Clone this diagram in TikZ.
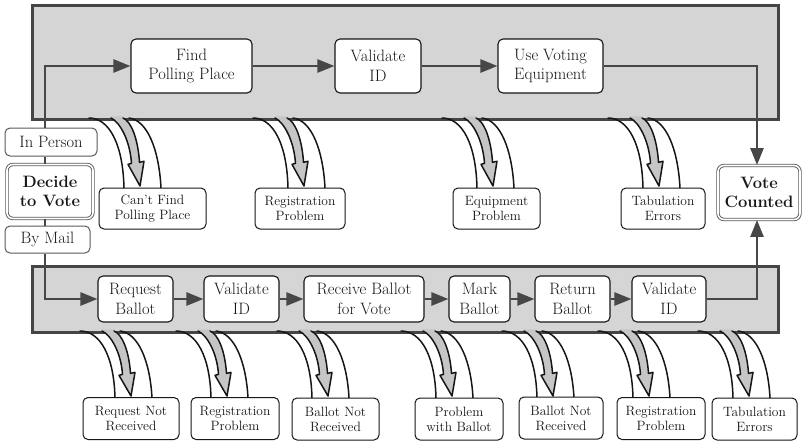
\documentclass[tikz,border=0pt]{standalone}
\usetikzlibrary{arrows.meta}

\definecolor{bandfill}{HTML}{D5D5D5}
\definecolor{bandline}{HTML}{454545}
\definecolor{flowcol}{HTML}{474747}
\definecolor{inkcol}{HTML}{161616}
\definecolor{leakgrey}{HTML}{C6C6C6}
\definecolor{framegrey}{HTML}{5A5A5A}

\newcommand{\boxfont}{\fontsize{16.5}{19.5}\selectfont}
\newcommand{\lblfont}{\fontsize{13.5}{15}\selectfont}

% a failure path: a hollow arrow dropping out of a lane inside a curved channel
\newcommand{\leakat}[3]{%
  \begin{scope}[shift={(#1,#2)},yscale=#3]
    \fill[leakgrey] (0,-1.6) -- (0,0) .. controls (9,4) and (19,22) .. (20.5,44)
      -- (17,45) -- (29,66) -- (33,42) -- (28.5,43)
      .. controls (27,20) and (20,3) .. (12,0) -- (12,-1.6) -- cycle;
    \draw[leakline] (0,0) .. controls (9,4) and (19,22) .. (20.5,44)
      -- (17,45) -- (29,66) -- (33,42) -- (28.5,43)
      .. controls (27,20) and (20,3) .. (12,0);
    \draw[leakline] (-22,0) .. controls (-2,0) and (12,25) .. (13,68);
    \draw[leakline] (18,0) .. controls (36,2) and (48,30) .. (50,68);
  \end{scope}}

\tikzset{
  band/.style={draw=bandline, fill=bandfill, line width=3pt, inner sep=0pt},
  stepbox/.style={draw=inkcol, fill=white, line width=1.1pt, rounded corners=5pt,
    align=center, inner sep=0pt, text=inkcol, font=\boxfont},
  endbox/.style={draw=framegrey, double=white, double distance=1.6pt, line width=0.9pt,
    fill=white, rounded corners=6pt, align=center, inner sep=0pt, text=inkcol,
    font=\boxfont\bfseries},
  choicebox/.style={draw=framegrey, fill=white, line width=1pt, rounded corners=5pt,
    align=center, inner sep=0pt, text=inkcol, font=\boxfont},
  lblbox/.style={draw=inkcol, fill=white, line width=1pt, rounded corners=5pt,
    align=center, inner sep=0pt, text=inkcol, font=\lblfont, minimum height=41pt},
  leakline/.style={draw=inkcol, line width=1.5pt, line cap=round, line join=round},
  flow/.style={draw=flowcol, line width=2.5pt, -{Triangle[length=17pt,width=13pt]}},
  plainline/.style={draw=flowcol, line width=2.5pt},
}

\begin{document}
\begin{tikzpicture}[x=1pt, y=-1pt]
\useasboundingbox (0,0) rectangle (802,445);

% lanes
\node[band, anchor=north west, minimum width=746pt, minimum height=114pt] (personlane) at (31,4) {};
\node[band, anchor=north west, minimum width=746pt, minimum height=66pt] (maillane) at (31,265) {};

% failure paths
\leakat{111}{118}{1.03}
\leakat{275}{118}{1.03}
\leakat{464}{118}{1.03}
\leakat{630}{118}{1.03}
\leakat{102}{331}{0.985}
\leakat{198}{331}{0.985}
\leakat{299}{331}{0.985}
\leakat{423}{331}{0.985}
\leakat{524}{331}{0.985}
\leakat{620}{331}{0.985}
\leakat{720}{331}{0.985}

% start and end
\node[endbox, minimum width=86pt, minimum height=54pt] (decide) at (50,191.5) {Decide\\to Vote};
\node[endbox, minimum width=82pt, minimum height=54pt] (counted) at (759,192.5) {Vote\\Counted};
\node[choicebox, minimum width=92pt, minimum height=28pt] (inperson) at (51,142) {In Person};
\node[choicebox, minimum width=85pt, minimum height=27pt] (bymail) at (47.5,239.5) {By Mail};

% in-person steps
\node[stepbox, minimum width=121pt, minimum height=54pt] (findpp) at (191.5,66) {Find\\Polling Place};
\node[stepbox, minimum width=86pt, minimum height=54pt] (valid1) at (378,66) {Validate\\ID};
\node[stepbox, minimum width=105pt, minimum height=54pt] (usevote) at (550.5,66) {Use Voting\\Equipment};

% mail steps
\node[stepbox, minimum width=75pt, minimum height=46pt] (reqballot) at (135.5,299) {Request\\Ballot};
\node[stepbox, minimum width=75pt, minimum height=46pt] (valid2) at (241.5,299) {Validate\\ID};
\node[stepbox, minimum width=120pt, minimum height=46pt] (recvballot) at (364,299) {Receive Ballot\\for Vote};
\node[stepbox, minimum width=61pt, minimum height=46pt] (markballot) at (479.5,299) {Mark\\Ballot};
\node[stepbox, minimum width=75pt, minimum height=46pt] (retballot) at (572.5,299) {Return\\Ballot};
\node[stepbox, minimum width=74pt, minimum height=46pt] (valid3) at (669,299) {Validate\\ID};

% failure labels, in person
\node[lblbox, minimum width=107pt] (cantfind) at (152.5,208.5) {Can’t Find\\Polling Place};
\node[lblbox, minimum width=90pt] (regtop) at (300,208.5) {Registration\\Problem};
\node[lblbox, minimum width=87pt] (equipprob) at (496.5,208.5) {Equipment\\Problem};
\node[lblbox, minimum width=84pt] (tabtop) at (663,208.5) {Tabulation\\Errors};

% failure labels, by mail
\node[lblbox, minimum width=96pt, minimum height=42pt] (reqnot) at (131,418.5) {Request Not\\Received};
\node[lblbox, minimum width=88pt, minimum height=42pt] (regmailA) at (235,418.5) {Registration\\Problem};
\node[lblbox, minimum width=87pt, minimum height=42pt] (ballotnotA) at (335.5,419) {Ballot Not\\Received};
\node[lblbox, minimum width=88pt, minimum height=42pt] (probballot) at (459,419) {Problem\\with Ballot};
\node[lblbox, minimum width=84pt, minimum height=42pt] (ballotnotB) at (561,418) {Ballot Not\\Received};
\node[lblbox, minimum width=88pt, minimum height=42pt] (regmailB) at (661,418.5) {Registration\\Problem};
\node[lblbox, minimum width=85pt, minimum height=42pt] (tabmail) at (754.5,419) {Tabulation\\Errors};

% connectors
\coordinate (lspine) at (45,0);
\coordinate (rspine) at (757,0);
\draw[plainline] (inperson.south -| lspine) -- (decide.north -| lspine);
\draw[plainline] (decide.south -| lspine) -- (bymail.north -| lspine);
\draw[flow] (inperson.north -| lspine) |- (findpp.west);
\draw[flow] (findpp.east) -- (valid1.west);
\draw[flow] (valid1.east) -- (usevote.west);
\draw[flow] (usevote.east) -| (rspine |- counted.north);
\draw[flow] (bymail.south -| lspine) |- (reqballot.west);
\draw[flow] (reqballot.east) -- (valid2.west);
\draw[flow] (valid2.east) -- (recvballot.west);
\draw[flow] (recvballot.east) -- (markballot.west);
\draw[flow] (markballot.east) -- (retballot.west);
\draw[flow] (retballot.east) -- (valid3.west);
\draw[flow] (valid3.east) -| (rspine |- counted.south);
\end{tikzpicture}
\end{document}
